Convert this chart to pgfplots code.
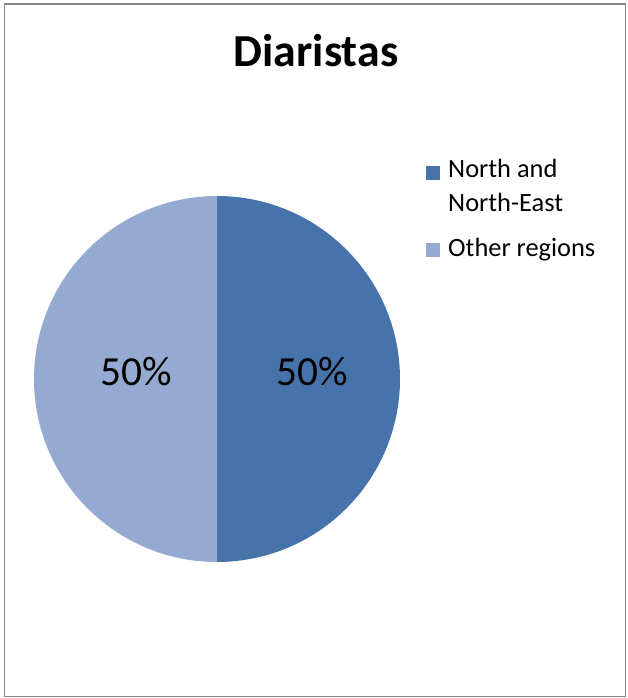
\documentclass[border=0pt]{standalone}
\usepackage{fontspec}
\setmainfont{Carlito}
\usepackage{pgfplots}
\pgfplotsset{compat=1.18}

\definecolor{sliceA}{HTML}{4674AA}
\definecolor{sliceB}{HTML}{95AAD0}
\definecolor{framegray}{HTML}{868686}

% shares of the two groups, in percent
\def\shareA{50}
\def\shareB{50}
% pie centre and radius (axis units = bp)
\def\pieX{217}
\def\pieY{319}
\def\pieR{183}

\pgfmathsetmacro{\pieTop}{\pieY+\pieR}
\pgfmathsetmacro{\startB}{90-3.6*\shareA}
\pgfmathsetmacro{\deltaA}{-3.6*\shareA}
\pgfmathsetmacro{\deltaB}{-3.6*\shareB}
\pgfmathsetmacro{\midA}{90-1.8*\shareA}
\pgfmathsetmacro{\midB}{\startB-1.8*\shareB}
\pgfmathsetmacro{\labAx}{\pieX+0.522*\pieR*cos(\midA)}
\pgfmathsetmacro{\labAy}{\pieY+0.522*\pieR*sin(\midA)-7}
\pgfmathsetmacro{\labBx}{\pieX+0.443*\pieR*cos(\midB)}
\pgfmathsetmacro{\labBy}{\pieY+0.443*\pieR*sin(\midB)-7}
\pgfmathsetmacro{\startBx}{\pieX+\pieR*cos(\startB)}
\pgfmathsetmacro{\startBy}{\pieY+\pieR*sin(\startB)}

\begin{document}
\begin{tikzpicture}
\begin{axis}[
  scale only axis, width=628bp, height=698bp,
  xmin=0, xmax=628, ymin=0, ymax=698,
  hide axis, clip=false]
  \path (axis cs:0,0) rectangle (axis cs:628,698);
  % chart frame
  \draw[framegray, line width=1.5bp] (axis cs:4.5,1.5) rectangle (axis cs:625.5,694);
  % title
  \node[anchor=base, font=\bfseries\fontsize{46}{54}\selectfont]
    at (axis cs:316,631) {Diaristas};
  % slices, clockwise from twelve o'clock
  \fill[sliceA] (axis cs:\pieX,\pieY) -- (axis cs:\pieX,\pieTop)
    arc[start angle=90, delta angle=\deltaA, radius=\pieR bp] -- cycle;
  \fill[sliceB] (axis cs:\pieX,\pieY) -- (axis cs:\startBx,\startBy)
    arc[start angle=\startB, delta angle=\deltaB, radius=\pieR bp] -- cycle;
  % value labels
  \node[anchor=base, font=\fontsize{41.5}{48}\selectfont]
    at (axis cs:\labAx,\labAy) {\shareA\%};
  \node[anchor=base, font=\fontsize{41.5}{48}\selectfont]
    at (axis cs:\labBx,\labBy) {\shareB\%};
  % legend
  \fill[sliceA] (axis cs:426,518) rectangle (axis cs:440,532);
  \fill[sliceB] (axis cs:426,441) rectangle (axis cs:440,455);
  \begin{scope}[every node/.style={anchor=base west, inner sep=0pt,
      font=\fontsize{26.5}{32}\selectfont}]
    \node at (axis cs:448,520) {North and};
    \node at (axis cs:448,486) {North-East};
    \node at (axis cs:448,441) {Other regions};
  \end{scope}
\end{axis}
\end{tikzpicture}
\end{document}
